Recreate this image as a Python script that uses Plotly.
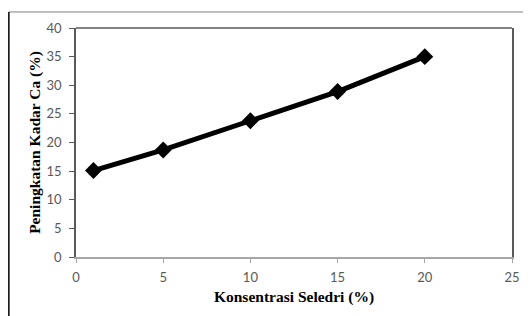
import plotly.graph_objects as go

konsentrasi = [1, 5, 10, 15, 20]
peningkatan_ca = [15.1, 18.7, 23.8, 28.9, 35.0]
x_ticks = [0, 5, 10, 15, 20, 25]
y_ticks = [0, 5, 10, 15, 20, 25, 30, 35, 40]

fig = go.Figure()
fig.add_trace(go.Scatter(
    x=konsentrasi, y=peningkatan_ca, mode="lines+markers",
    line=dict(color="black", width=5),
    marker=dict(symbol="diamond", size=13, color="black"),
    showlegend=False,
))

tick_font = dict(family="Lato, Open Sans, sans-serif", size=13, color="#595959")
title_font = dict(family="Liberation Serif, Times New Roman, serif", size=15.5, color="black")

fig.update_layout(
    width=523, height=308,
    margin=dict(l=68, r=19, t=20, b=59, autoexpand=False),
    paper_bgcolor="white", plot_bgcolor="white",
    xaxis=dict(
        range=[0, 25], tickvals=x_ticks, ticktext=[str(v) for v in x_ticks],
        showgrid=False, zeroline=False, showline=True, linecolor="#a6a6a6", linewidth=1.5,
        ticks="outside", ticklen=4, tickcolor="#a6a6a6", tickfont=tick_font,
        ticklabelstandoff=4, automargin=False,
        title=dict(text="<b>Konsentrasi Seledri (%)</b>", font=title_font, standoff=7),
    ),
    yaxis=dict(
        range=[0, 40], tickvals=y_ticks, ticktext=[str(v) for v in y_ticks],
        showgrid=False, zeroline=False, showline=True, linecolor="#595959", linewidth=1.5,
        mirror=True, automargin=False,
        ticks="outside", ticklen=5, tickcolor="#595959", tickfont=tick_font,
        ticklabelstandoff=5,
        title=dict(text="<b>Peningkatan Kadar Ca (%)</b>", font=title_font, standoff=2),
    ),
    shapes=[
        dict(type="line", xref="paper", yref="paper", x0=0, x1=1, y0=1, y1=1,
             line=dict(color="#595959", width=1.5)),
        dict(type="line", xref="paper", yref="paper", x0=-0.154, x1=1.1, y0=1.07, y1=1.07,
             line=dict(color="#7f7f7f", width=1)),
        dict(type="line", xref="paper", yref="paper", x0=-0.154, x1=-0.154, y0=1.07, y1=-0.3,
             line=dict(color="black", width=1.5)),
    ],
)

fig.write_html("out.html")
